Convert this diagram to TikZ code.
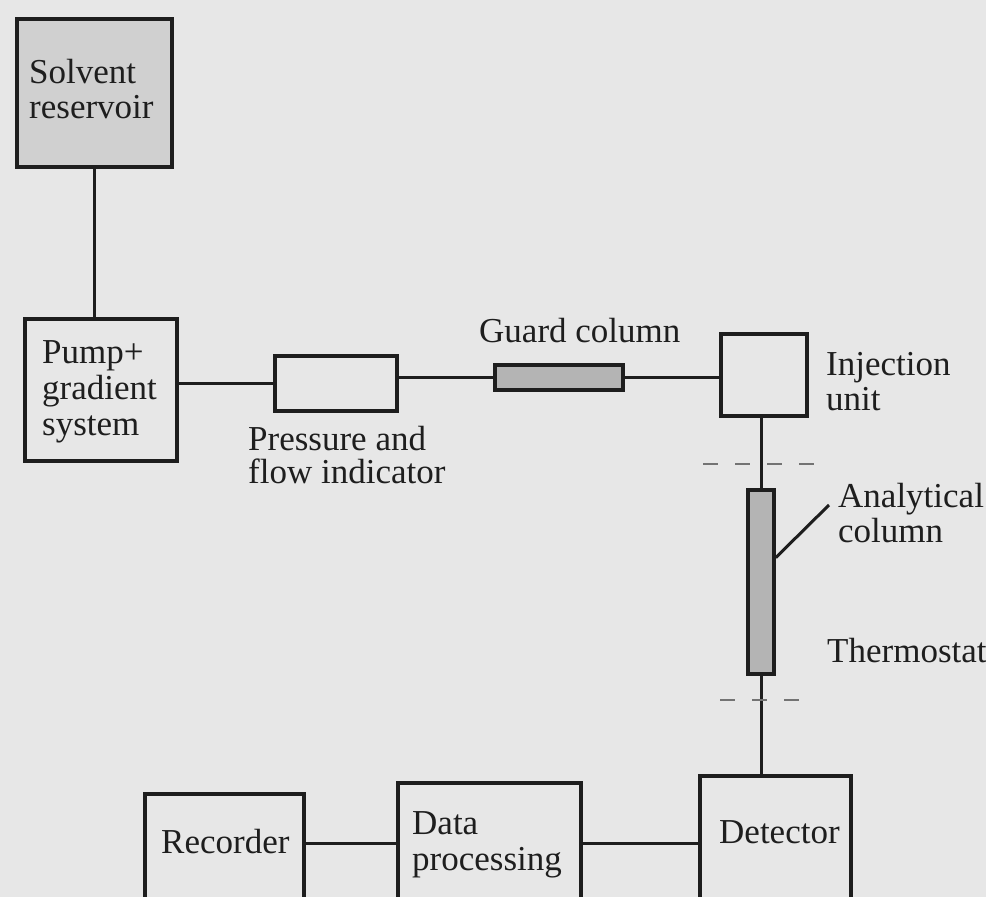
\documentclass[tikz,border=0pt]{standalone}
\usepackage{fontspec}
\setmainfont{Liberation Serif}
\usetikzlibrary{calc}
\definecolor{paper}{RGB}{231,231,231}
\definecolor{ink}{RGB}{30,30,30}
\definecolor{tint}{RGB}{208,208,208}
\definecolor{packing}{RGB}{180,180,180}
\definecolor{thermo}{RGB}{115,115,115}
\tikzset{
  unit/.style={draw=ink, line width=4pt, inner sep=0pt},
  packed/.style={draw=ink, line width=3.5pt, fill=packing, inner sep=0pt},
  pipe/.style={draw=ink, line width=3pt},
  % multi-line captions are anchored at the baseline of their last line
  caption/.style={text=ink, inner sep=0pt, align=left, anchor=base west,
    font=\fontsize{35}{36}\selectfont},
  jacket/.style={draw=thermo, line width=1.5pt, dash pattern=on 15pt off 17pt},
}
\begin{document}
\begin{tikzpicture}[x=1pt,y=-1pt]
\fill[paper] (0,0) rectangle (986,897);
\useasboundingbox (0,0) rectangle (986,897);
\clip (0,0) rectangle (986,897);

% units of the chromatograph
\node[unit, fill=tint, minimum width=155pt, minimum height=148pt] (solv) at (94.5,93) {};
\node[unit, minimum width=152pt, minimum height=142pt] (pump) at (101,390) {};
\node[unit, line width=3.5pt, minimum width=122pt, minimum height=55pt] (press) at (336,383.5) {};
\node[packed, minimum width=128pt, minimum height=25pt] (guard) at (559,377.5) {};
\node[unit, line width=3.5pt, minimum width=86pt, minimum height=82pt] (inj) at (764,375) {};
\node[packed, minimum width=26pt, minimum height=184pt] (anal) at (761,582) {};
\node[unit, minimum width=151pt, minimum height=144pt] (det) at (775.5,848) {};
\node[unit, minimum width=183pt, minimum height=120pt] (data) at (489.5,843) {};
\node[unit, minimum width=159pt, minimum height=126pt] (rec) at (224.5,857) {};

% captions
\node[caption, font=\fontsize{35}{35}\selectfont] (solv-t) at (29,118) {Solvent\\reservoir};
\node[caption] (pump-t) at (42,435) {Pump+\\gradient\\system};
\node[caption, font=\fontsize{35}{32.5}\selectfont] (press-t) at (248,483) {Pressure and\\flow indicator};
\node[caption] (guard-t) at (479,342) {Guard column};
\node[caption, font=\fontsize{35}{35}\selectfont] (inj-t) at (826,410) {Injection\\unit};
\node[caption, font=\fontsize{35}{35}\selectfont] (anal-t) at (838,542) {Analytical\\column};
\node[caption] (thermo-t) at (827,662) {Thermostat};
\node[caption] (data-t) at (412,870) {Data\\processing};
\node[caption] (rec-t) at (161,853) {Recorder};
\node[caption] (det-t) at (719,843) {Detector};

% tubing and signal lines
\draw[pipe] (solv.south) -- (solv.south |- pump.north);
\draw[pipe] (press.west -| pump.east) -- (press.west);
\draw[pipe] (guard.west -| press.east) -- (guard.west);
\draw[pipe] (guard.east) -- (guard.east -| inj.west);
\draw[pipe] (anal.north |- inj.south) -- (anal.north);
\draw[pipe] (anal.south) -- (anal.south |- det.north);
\draw[pipe] (data.east) -- (data.east -| det.west);
\draw[pipe] (data.west) -- (data.west -| rec.east);

% leader to the analytical column
\coordinate (anal-tip) at (829,505);
\draw[pipe] ($(anal.north east)!0.37!(anal.south east)$) -- (anal-tip);

% thermostat jacket limits
\coordinate (jt-l) at (703,464);
\coordinate (jt-r) at (815,464);
\coordinate (jb-l) at (720,700);
\coordinate (jb-r) at (800,700);
\draw[jacket] (jt-l) -- (jt-r);
\draw[jacket] (jb-l) -- (jb-r);
\end{tikzpicture}
\end{document}
